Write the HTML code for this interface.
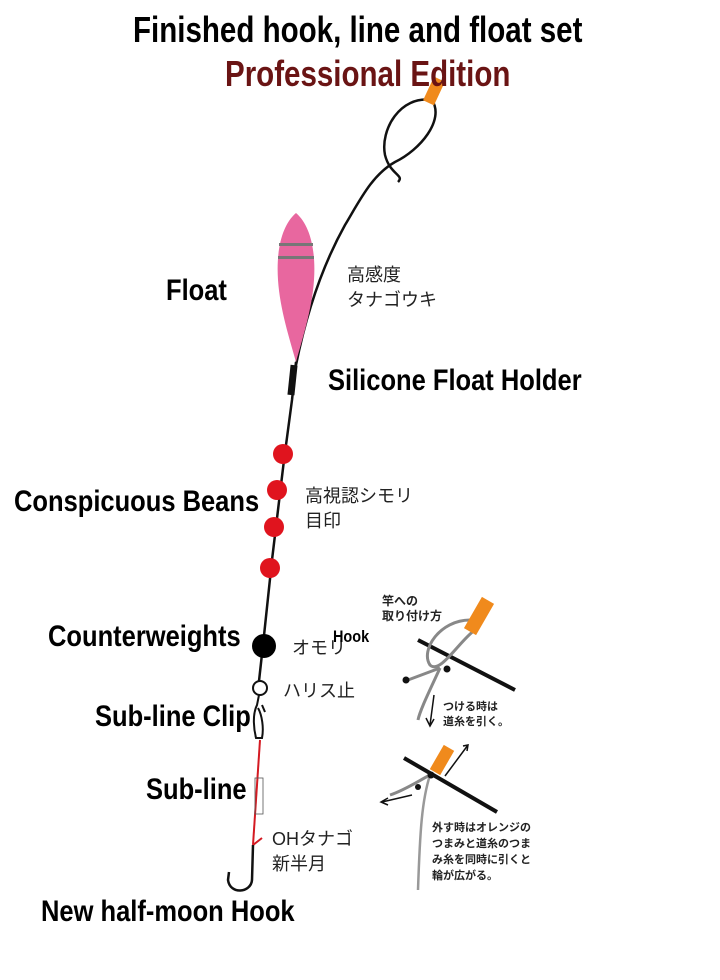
<!DOCTYPE html>
<html><head><meta charset="utf-8"><style>
body{margin:0;background:#fff;}
.c{position:relative;width:720px;height:980px;overflow:hidden;background:#fff;}
.t{position:absolute;font-family:"Liberation Sans Narrow","Liberation Sans",sans-serif;font-weight:bold;white-space:nowrap;color:#000;transform-origin:0 0;transform:scaleX(0.85);font-size:30px;}
.h{transform:scaleX(0.82);font-size:36px;}
.j{position:absolute;font-family:"Liberation Sans","Noto Sans CJK JP",sans-serif;white-space:nowrap;color:#222;}
</style></head><body><div class="c">
<svg width="720" height="980" style="position:absolute;left:0;top:0">
<path d="M432 100 C 400 95 380 130 385 155 C 390 175 405 175 398 182" fill="none" stroke="#111" stroke-width="2.5"/>
<path d="M432 100 C 445 120 420 150 395 162 C 372 175 360 200 345 225 C 320 270 305 320 296 365" fill="none" stroke="#111" stroke-width="2.5"/>
<rect x="428" y="78" width="12" height="26" fill="#f08a1c" transform="rotate(25 434 91)"/>
<path d="M296 213 C 282 225 276 250 278 280 C 280 310 290 340 296 362 C 302 340 312 310 314 280 C 316 250 310 225 296 213 Z" fill="#e8679f"/>
<rect x="279" y="243" width="34" height="3" fill="#777"/>
<rect x="278" y="256" width="36" height="3" fill="#777"/>
<path d="M296 362 L 292 400 L 284 460 L 272 560 L 263 645 L 258 690" fill="none" stroke="#111" stroke-width="2.5"/>
<rect x="289" y="365" width="7" height="30" fill="#111" transform="rotate(6 292 380)"/>
<circle cx="283" cy="454" r="10" fill="#e0141e"/>
<circle cx="277" cy="490" r="10" fill="#e0141e"/>
<circle cx="274" cy="527" r="10" fill="#e0141e"/>
<circle cx="270" cy="568" r="10" fill="#e0141e"/>
<circle cx="264" cy="646" r="12" fill="#000"/>
<circle cx="260" cy="688" r="7" fill="#fff" stroke="#111" stroke-width="2"/>
<path d="M259 695 L 257 705 C 252 715 254 730 256 738 L 262 738 C 264 728 262 715 258 708 M 262 705 L 265 712" fill="none" stroke="#111" stroke-width="2"/>
<path d="M260 740 L 253 845" stroke="#d41a22" stroke-width="2" fill="none"/>
<path d="M253 845 L 262 838" stroke="#d41a22" stroke-width="2"/>
<path d="M253 845 L 252 880 C 251 893 230 895 228 880 L 229 872" fill="none" stroke="#111" stroke-width="2.5"/>
<rect x="255" y="778" width="8" height="36" fill="none" stroke="#555" stroke-width="0.8"/>
<path d="M418 640 L 515 690" stroke="#111" stroke-width="4"/>
<path d="M470 620 C 440 620 420 650 430 665 C 440 675 460 640 475 630" fill="none" stroke="#888" stroke-width="3"/>
<path d="M440 668 C 430 690 420 710 418 720" fill="none" stroke="#888" stroke-width="3"/>
<path d="M440 668 L 408 680" fill="none" stroke="#888" stroke-width="3"/>
<circle cx="447" cy="669" r="3.5" fill="#111"/><circle cx="406" cy="680" r="3.5" fill="#111"/>
<rect x="472" y="598" width="14" height="36" fill="#f08a1c" transform="rotate(30 479 616)"/>
<path d="M434 695 L 430 725 M426 718 L430 726 L434 719" fill="none" stroke="#111" stroke-width="1.5"/>
<path d="M404 758 L 497 812" stroke="#111" stroke-width="4"/>
<rect x="436" y="746" width="12" height="28" fill="#f08a1c" transform="rotate(30 442 760)"/>
<path d="M445 776 L 468 745 M463 746 L468 745 L467 751" fill="none" stroke="#111" stroke-width="1.5"/>
<path d="M430 775 C 420 780 405 790 390 795" fill="none" stroke="#888" stroke-width="3"/>
<path d="M430 775 C 422 800 420 830 418 890" fill="none" stroke="#999" stroke-width="2.5"/>
<circle cx="431" cy="775" r="3.5" fill="#111"/><circle cx="418" cy="787" r="3" fill="#111"/>
<path d="M412 795 L 382 802 M388 798 L381 802 L388 805" fill="none" stroke="#111" stroke-width="1.5"/>
</svg>
<div class="t h" style="left:133px;top:9px;">Finished hook, line and float set</div>
<div class="t h" style="left:225px;top:53px;color:#6a1414;">Professional Edition</div>
<div class="t" style="left:166px;top:274px;">Float</div>
<div class="t" style="left:328px;top:364px;">Silicone Float Holder</div>
<div class="t" style="left:14px;top:485px;">Conspicuous Beans</div>
<div class="t" style="left:48px;top:620px;">Counterweights</div>
<div class="t" style="left:95px;top:700px;">Sub-line Clip</div>
<div class="t" style="left:146px;top:773px;">Sub-line</div>
<div class="t" style="left:41px;top:895px;">New half-moon Hook</div>
<div class="j" style="left:347px;top:263px;font-size:18px;line-height:25px;">高感度<br>タナゴウキ</div>
<div class="j" style="left:305px;top:484px;font-size:18px;line-height:25px;">高視認シモリ<br>目印</div>
<div class="j" style="left:292px;top:634px;font-size:18px;">オモリ</div>
<div class="t" style="left:333px;top:627px;font-size:17px;">Hook</div>
<div class="j" style="left:283px;top:677px;font-size:18px;">ハリス止</div>
<div class="j" style="left:272px;top:827px;font-size:18px;line-height:25px;">OHタナゴ<br>新半月</div>
<div class="j" style="left:382px;top:594px;font-size:12px;line-height:15px;font-weight:bold;">竿への<br>取り付け方</div>
<div class="j" style="left:443px;top:700px;font-size:11px;line-height:15px;font-weight:bold;">つける時は<br>道糸を引く。</div>
<div class="j" style="left:432px;top:820px;font-size:11px;line-height:16px;font-weight:bold;">外す時はオレンジの<br>つまみと道糸のつま<br>み糸を同時に引くと<br>輪が広がる。</div>
</div></body></html>
